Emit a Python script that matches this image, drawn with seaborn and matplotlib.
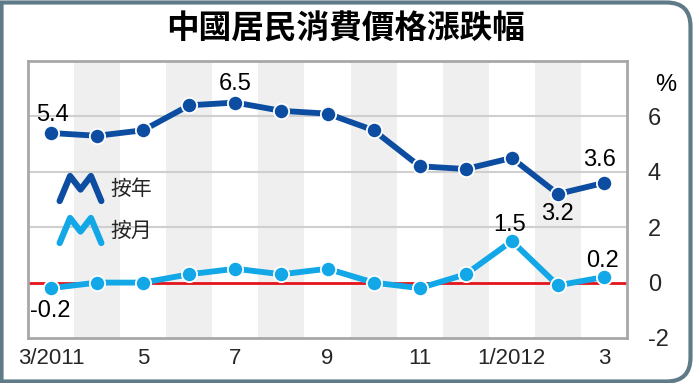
import matplotlib
import matplotlib.pyplot as plt
import pandas as pd
import seaborn as sns
from matplotlib import font_manager
from matplotlib.lines import Line2D
from matplotlib.markers import MarkerStyle
from matplotlib.patches import PathPatch
from matplotlib.path import Path

matplotlib.use("Agg")

TITLE = "中國居民消費價格漲跌幅"
MONTHS = ["3/2011", "4", "5", "6", "7", "8", "9", "10", "11", "12", "1/2012", "2", "3"]
YOY = [5.4, 5.3, 5.5, 6.4, 6.5, 6.2, 6.1, 5.5, 4.2, 4.1, 4.5, 3.2, 3.6]
MOM = [-0.2, 0.0, 0.0, 0.3, 0.5, 0.3, 0.5, 0.0, -0.2, 0.3, 1.5, -0.1, 0.2]
YOY_LABEL = "按年"
MOM_LABEL = "按月"
Y_TICKS = [-2, 0, 2, 4, 6]

DARK_BLUE = "#0c4da2"
LIGHT_BLUE = "#12a7e6"
RED = "#e3141b"
BAND = "#efefef"
GRID = "#cfcfcf"
SPINE = "#a8a8a8"
FRAME = "#5f7b88"

W, H = 693, 383


def font_or(name, fallback):
    names = {f.name for f in font_manager.fontManager.ttflist}
    return name if name in names else fallback


sns.set_style("white")
plt.rcParams["font.family"] = ["Liberation Sans", "Noto Sans CJK TC", "DejaVu Sans"]
narrow = font_or("Liberation Sans Narrow", "Liberation Sans")

df = pd.DataFrame({"idx": range(len(MONTHS)), "yoy": YOY, "mom": MOM})

fig = plt.figure(figsize=(W / 100, H / 100), dpi=100)
ax = fig.add_axes([28 / W, 1 - 338 / H, (627 - 28) / W, (338 - 61) / H])

# alternating month bands
for i in range(len(MONTHS)):
    if i % 2 == 1:
        ax.axvspan(i - 0.5, i + 0.5, color=BAND, lw=0, zorder=0)

for y in [2, 4, 6]:
    ax.axhline(y, color=GRID, lw=1.5, zorder=1)
ax.axhline(0, color=RED, lw=2, zorder=1)

line_kw = dict(lw=4.2, marker="o", markersize=11, markeredgecolor="white",
               markeredgewidth=1.3, zorder=3)
sns.lineplot(data=df, x="idx", y="yoy", color=DARK_BLUE, ax=ax, **line_kw)
sns.lineplot(data=df, x="idx", y="mom", color=LIGHT_BLUE, ax=ax, **line_kw)

# value labels (index, series, offset in px)
labels = [
    (0, YOY, (1, 18)), (4, YOY, (0, 19)), (12, YOY, (-4, 23)), (11, YOY, (0, -20)),
    (10, MOM, (-2, 16)), (12, MOM, (-1, 16)), (0, MOM, (-1, -23)),
]
for i, s, off in labels:
    ax.annotate(f"{s[i]:.1f}", (i, s[i]), xytext=off, textcoords="offset pixels",
                ha="center", va="center", fontsize=17, color="black", zorder=4)

ax.set_xlim(-0.5, len(MONTHS) - 0.5)
ax.set_ylim(-2, 8)
ax.set_xticks(range(0, len(MONTHS), 2))
ax.set_xticklabels(MONTHS[::2], fontsize=16, family=narrow)
ax.set_yticks(Y_TICKS)
ax.set_yticklabels([str(t) for t in Y_TICKS], fontsize=17)
ax.yaxis.tick_right()
ax.tick_params(axis="y", length=0, pad=15)
ax.tick_params(axis="x", length=0, pad=7)
ax.set_xlabel("")
ax.set_ylabel("")
for sp in ax.spines.values():
    sp.set_color(SPINE)
    sp.set_linewidth(2)
ax.text(1.047, 0.915, "%", transform=ax.transAxes, ha="left", va="center", fontsize=17,
        color="black")

# legend with M-shaped icons
m_path = Path([(-1, -0.6), (-0.5, 0.6), (0, -0.05), (0.5, 0.6), (1, -0.6)])
m_marker = MarkerStyle(m_path, fillstyle="none", joinstyle="round", capstyle="round")
handles = [
    Line2D([], [], ls="none", marker=m_marker, markersize=30, markeredgewidth=4.5,
           color=DARK_BLUE, label=YOY_LABEL),
    Line2D([], [], ls="none", marker=m_marker, markersize=30, markeredgewidth=4.5,
           color=LIGHT_BLUE, label=MOM_LABEL),
]
ax.legend(handles=handles, loc="upper left", bbox_to_anchor=(0.04, 0.615), frameon=False,
          prop={"family": "Noto Sans CJK TC", "size": 15}, labelspacing=0.95,
          handlelength=1.7, handletextpad=0.6, borderpad=0)

fig.text(346 / W, 1 - 29 / H, TITLE, ha="center", va="center", fontsize=23.5,
         fontweight="heavy", family=["Noto Sans CJK TC"], color="black")

# outer frame: square left corners, rounded right corners
r = 24
x0, y0, x1, y1 = 1.5, 1.5, W - 2.5, H - 2.5
verts = [
    (x0, y0), (x1 - r, y0), (x1, y0), (x1, y0 + r),
    (x1, y1 - r), (x1, y1), (x1 - r, y1), (x0, y1), (x0, y0),
]
codes = [Path.MOVETO, Path.LINETO, Path.CURVE3, Path.CURVE3,
         Path.LINETO, Path.CURVE3, Path.CURVE3, Path.LINETO, Path.CLOSEPOLY]
verts = [(x / W, y / H) for x, y in verts]
fig.patches.append(PathPatch(Path(verts, codes), transform=fig.transFigure, fill=False,
                             edgecolor=FRAME, lw=3))

fig.savefig("out.png", dpi=100)
